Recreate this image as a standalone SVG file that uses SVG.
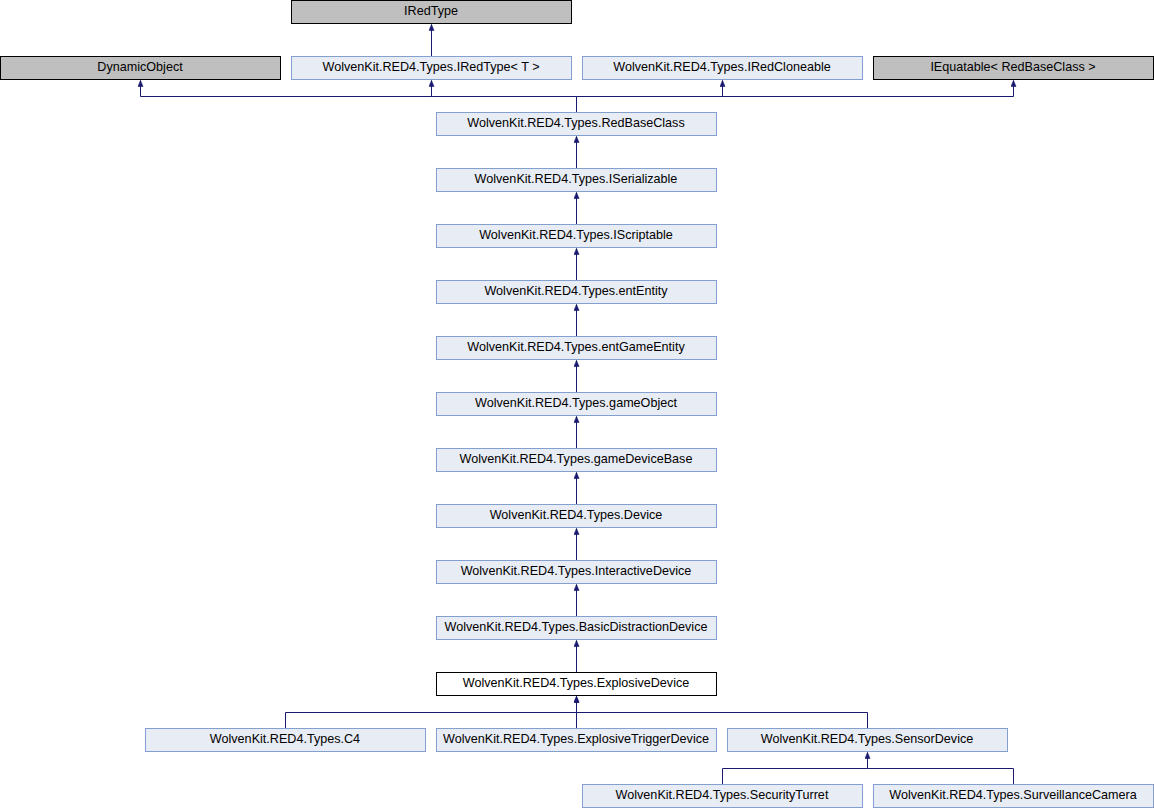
<svg xmlns="http://www.w3.org/2000/svg" width="1154" height="808" viewBox="0 0 1154 808">
<defs>
<style>
.n rect{fill:#E8ECF5;stroke:#84A0D1;stroke-width:1}
.ext rect{fill:#BFBFBF;stroke:#000000;stroke-width:1}
.cur rect{fill:#FFFFFF;stroke:#000000;stroke-width:1}
text{font-family:"Liberation Sans",Arial,sans-serif;font-size:12.6px;fill:#000000;text-anchor:middle;dominant-baseline:central}
.e{fill:none;stroke:#191970;stroke-width:1}
</style>
<marker id="ah" markerWidth="7" markerHeight="6" refX="6" refY="3" orient="auto" markerUnits="userSpaceOnUse" viewBox="0 0 7 6">
<path d="M0,0.5 L6,3 L0,5.5 Z" fill="#191970" stroke="#191970" stroke-width="0.6"/>
</marker>
</defs>
<rect x="0" y="0" width="1154" height="808" fill="#FFFFFF"/>
<g id="connectors">
<path class="e" d="M431.5,56 V24.5" marker-end="url(#ah)"/>
<path class="e" d="M576.5,112 V96.5 H140.5 V80.5" marker-end="url(#ah)"/>
<path class="e" d="M576.5,96.5 H431.5 V80.5" marker-end="url(#ah)"/>
<path class="e" d="M576.5,96.5 H722.5 V80.5" marker-end="url(#ah)"/>
<path class="e" d="M576.5,96.5 H1013.5 V80.5" marker-end="url(#ah)"/>
<path class="e" d="M576.5,168 V136.5" marker-end="url(#ah)"/>
<path class="e" d="M576.5,224 V192.5" marker-end="url(#ah)"/>
<path class="e" d="M576.5,280 V248.5" marker-end="url(#ah)"/>
<path class="e" d="M576.5,336 V304.5" marker-end="url(#ah)"/>
<path class="e" d="M576.5,392 V360.5" marker-end="url(#ah)"/>
<path class="e" d="M576.5,448 V416.5" marker-end="url(#ah)"/>
<path class="e" d="M576.5,504 V472.5" marker-end="url(#ah)"/>
<path class="e" d="M576.5,560 V528.5" marker-end="url(#ah)"/>
<path class="e" d="M576.5,616 V584.5" marker-end="url(#ah)"/>
<path class="e" d="M576.5,672 V640.5" marker-end="url(#ah)"/>
<path class="e" d="M285.5,728 V712.5 H576.5 V696.5" marker-end="url(#ah)"/>
<path class="e" d="M576.5,728 V696.5" marker-end="url(#ah)"/>
<path class="e" d="M867.5,728 V712.5 H576.5"/>
<path class="e" d="M722.5,784 V768.5 H867.5 V752.5" marker-end="url(#ah)"/>
<path class="e" d="M1013.5,784 V768.5 H867.5"/>
</g>
<g id="IRedType" class="ext"><rect x="291.5" y="0.5" width="280" height="23"/><text x="431" y="10.5">IRedType</text></g>
<g id="DynamicObject" class="ext"><rect x="0.5" y="56.5" width="280" height="23"/><text x="140" y="66.5">DynamicObject</text></g>
<g id="IRedTypeT" class="n"><rect x="291.5" y="56.5" width="280" height="23"/><text x="431" y="66.5">WolvenKit.RED4.Types.IRedType&lt; T &gt;</text></g>
<g id="IRedCloneable" class="n"><rect x="582.5" y="56.5" width="280" height="23"/><text x="722" y="66.5">WolvenKit.RED4.Types.IRedCloneable</text></g>
<g id="IEquatable" class="ext"><rect x="873.5" y="56.5" width="280" height="23"/><text x="1013" y="66.5">IEquatable&lt; RedBaseClass &gt;</text></g>
<g id="RedBaseClass" class="n"><rect x="436.5" y="112.5" width="280" height="23"/><text x="576" y="122.5">WolvenKit.RED4.Types.RedBaseClass</text></g>
<g id="ISerializable" class="n"><rect x="436.5" y="168.5" width="280" height="23"/><text x="576" y="178.5">WolvenKit.RED4.Types.ISerializable</text></g>
<g id="IScriptable" class="n"><rect x="436.5" y="224.5" width="280" height="23"/><text x="576" y="234.5">WolvenKit.RED4.Types.IScriptable</text></g>
<g id="entEntity" class="n"><rect x="436.5" y="280.5" width="280" height="23"/><text x="576" y="290.5">WolvenKit.RED4.Types.entEntity</text></g>
<g id="entGameEntity" class="n"><rect x="436.5" y="336.5" width="280" height="23"/><text x="576" y="346.5">WolvenKit.RED4.Types.entGameEntity</text></g>
<g id="gameObject" class="n"><rect x="436.5" y="392.5" width="280" height="23"/><text x="576" y="402.5">WolvenKit.RED4.Types.gameObject</text></g>
<g id="gameDeviceBase" class="n"><rect x="436.5" y="448.5" width="280" height="23"/><text x="576" y="458.5">WolvenKit.RED4.Types.gameDeviceBase</text></g>
<g id="Device" class="n"><rect x="436.5" y="504.5" width="280" height="23"/><text x="576" y="514.5">WolvenKit.RED4.Types.Device</text></g>
<g id="InteractiveDevice" class="n"><rect x="436.5" y="560.5" width="280" height="23"/><text x="576" y="570.5">WolvenKit.RED4.Types.InteractiveDevice</text></g>
<g id="BasicDistractionDevice" class="n"><rect x="436.5" y="616.5" width="280" height="23"/><text x="576" y="626.5">WolvenKit.RED4.Types.BasicDistractionDevice</text></g>
<g id="ExplosiveDevice" class="cur"><rect x="436.5" y="672.5" width="280" height="23"/><text x="576" y="682.5">WolvenKit.RED4.Types.ExplosiveDevice</text></g>
<g id="C4" class="n"><rect x="145.5" y="728.5" width="280" height="23"/><text x="285" y="738.5">WolvenKit.RED4.Types.C4</text></g>
<g id="ExplosiveTriggerDevice" class="n"><rect x="436.5" y="728.5" width="280" height="23"/><text x="576" y="738.5">WolvenKit.RED4.Types.ExplosiveTriggerDevice</text></g>
<g id="SensorDevice" class="n"><rect x="727.5" y="728.5" width="280" height="23"/><text x="867" y="738.5">WolvenKit.RED4.Types.SensorDevice</text></g>
<g id="SecurityTurret" class="n"><rect x="582.5" y="784.5" width="280" height="23"/><text x="722" y="794.5">WolvenKit.RED4.Types.SecurityTurret</text></g>
<g id="SurveillanceCamera" class="n"><rect x="873.5" y="784.5" width="280" height="23"/><text x="1013" y="794.5">WolvenKit.RED4.Types.SurveillanceCamera</text></g>
</svg>
